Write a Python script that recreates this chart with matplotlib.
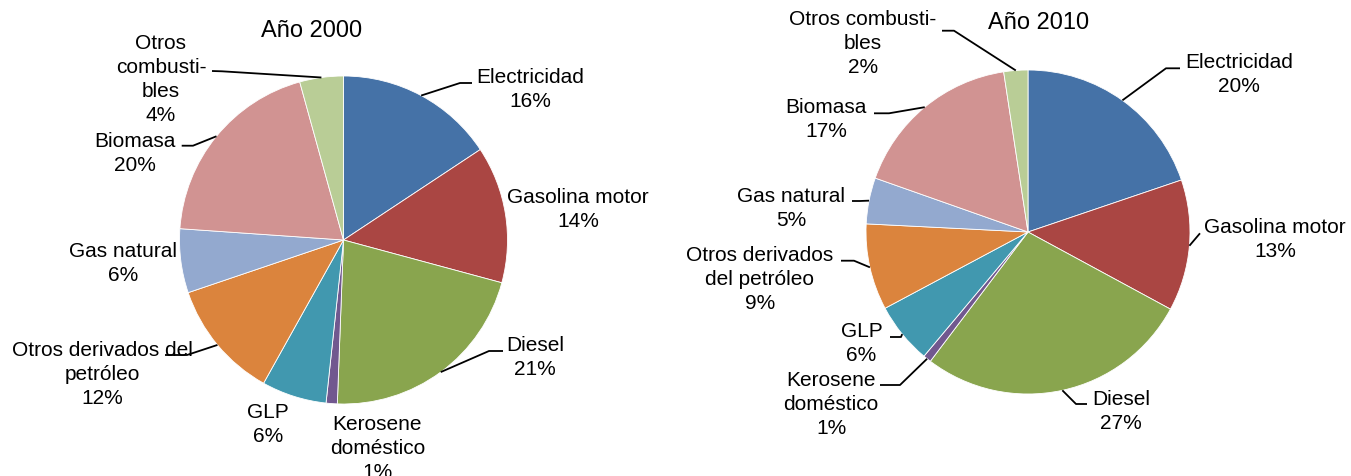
import numpy as np
import matplotlib
matplotlib.use("Agg")
import matplotlib.pyplot as plt

plt.rcParams["font.family"] = ["Liberation Sans", "DejaVu Sans"]

# ── Data ──────────────────────────────────────────────────────────────────────
# Shares of final energy consumption (%).
categorias = ["Electricidad", "Gasolina motor", "Diesel", "Kerosene doméstico", "GLP",
              "Otros derivados del petróleo", "Gas natural", "Biomasa", "Otros combustibles"]
valores_2000 = [15.7, 13.5, 21.4, 1.1, 6.4, 11.7, 6.3, 19.6, 4.3]
valores_2010 = [19.8, 13.1, 27.4, 0.8, 6.1, 8.6, 4.6, 17.2, 2.4]

# label text as it is wrapped in each chart
etiquetas_2000 = [["Electricidad"], ["Gasolina motor"], ["Diesel"], ["Kerosene", "doméstico"],
                  ["GLP"], ["Otros derivados del", "petróleo"], ["Gas natural"], ["Biomasa"],
                  ["Otros", "combusti-", "bles"]]
etiquetas_2010 = [["Electricidad"], ["Gasolina motor"], ["Diesel"], ["Kerosene", "doméstico"],
                  ["GLP"], ["Otros derivados", "del petróleo"], ["Gas natural"], ["Biomasa"],
                  ["Otros combusti-", "bles"]]

colores = ["#4572A7", "#AA4643", "#89A54E", "#71588F", "#4198AF",
           "#DB843D", "#93A9CF", "#D19392", "#B9CD96"]

# ── Layout (pixel positions, y measured from the top) ────────────────────────
W, H = 1351, 476
LINE = 24          # line spacing of labels, px
FS_LABEL = 15
FS_TITLE = 17

layout_2000 = dict(
    center=(343.5, 240), radius=164, title=("Año 2000", 311.5, 36.7),
    labels=[(530, 83.3), (578, 202.7), (535, 350.7), (377.5, 430), (268, 418.3),
            (102, 356), (123, 256.7), (135, 146.7), (161, 49)],
    leaders=[[(460, 83), (472, 83)], None, [(489, 351), (503, 351)], None, None,
             [(187, 355), (165, 355)], None, [(193, 145.7), (181.7, 145.7)],
             [(222, 71.3), (212, 71)]],
)
layout_2010 = dict(
    center=(1028, 232), radius=162, title=("Año 2010", 1039, 29),
    labels=[(1239, 68.3), (1275, 233.3), (1121, 405), (831, 386), (861.5, 336.7),
            (759.8, 260.7), (791, 201.7), (826.3, 113.3), (862.6, 25)],
    leaders=[[(1166, 68.3), (1180, 68.3)], [(1200, 233.3)], [(1076, 404), (1087, 404)],
             [(900, 385), (880, 385)], [(901, 337), (890, 337)],
             [(854, 260.7), (841, 260.7)], [(860, 201), (852, 201)],
             [(889, 113.3), (874, 113.3)], [(954, 30.7), (942, 30.7)]],
)


def draw_pie(ax, valores, etiquetas, lay):
    cx, cy = lay["center"]
    r = lay["radius"]
    wedges, _ = ax.pie(valores, colors=colores, startangle=90, counterclock=False,
                       center=(cx, H - cy), radius=r,
                       wedgeprops=dict(edgecolor="white", linewidth=0.6))

    for w, v, lines, (tx, ty), lead in zip(wedges, valores, etiquetas,
                                           lay["labels"], lay["leaders"]):
        for i, txt in enumerate(lines + [f"{v:.0f}%"]):
            ax.text(tx, H - (ty + i * LINE), txt, ha="center", va="baseline",
                    fontsize=FS_LABEL, color="black")
        if lead:
            ang = np.deg2rad((w.theta1 + w.theta2) / 2)
            xs = [cx + r * np.cos(ang)] + [p[0] for p in lead]
            ys = [H - cy + r * np.sin(ang)] + [H - p[1] for p in lead]
            ax.plot(xs, ys, color="black", linewidth=1.3, solid_capstyle="butt")

    title, tx, ty = lay["title"]
    ax.text(tx, H - ty, title, ha="center", va="baseline", fontsize=FS_TITLE)


fig = plt.figure(figsize=(W / 100, H / 100), dpi=100)
ax = fig.add_axes([0, 0, 1, 1])

draw_pie(ax, valores_2000, etiquetas_2000, layout_2000)
draw_pie(ax, valores_2010, etiquetas_2010, layout_2010)

ax.set_xlim(0, W)
ax.set_ylim(0, H)
ax.set_aspect("equal")
ax.set_axis_off()

fig.savefig("out.png", dpi=100, facecolor="white")
